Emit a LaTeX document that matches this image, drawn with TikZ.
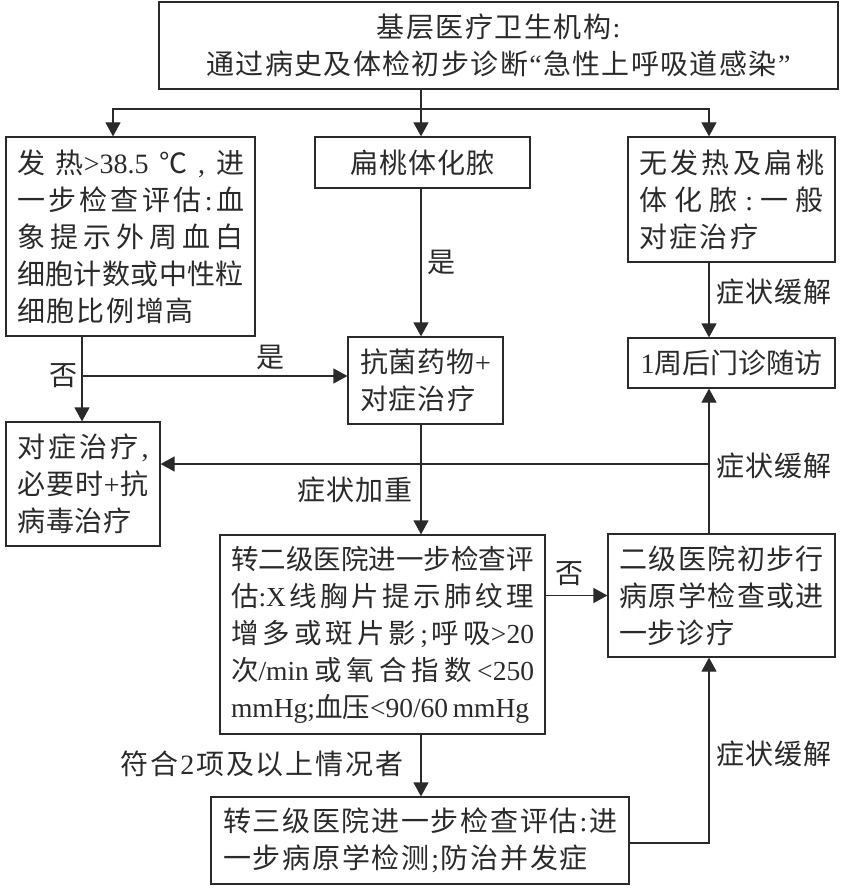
\documentclass[tikz,border=0pt]{standalone}
\usepackage{fontspec}
\setmainfont{Liberation Serif}
\newfontfamily\cjk{Noto Sans CJK SC}
\newcommand{\lat}{\rmfamily}
\usetikzlibrary{arrows.meta}
% one line of text spread out to a given width
\makeatletter
\newcommand{\fl}[2]{\makebox[#1pt][s]{\@tfor\@ch:=#2\do{\begingroup\@ch\endgroup\hfil}\unskip}}
\makeatother
\definecolor{inkgray}{HTML}{2A2A2A}
\tikzset{
  flowbox/.style={draw=inkgray, line width=1.2pt, rectangle, inner sep=0pt, align=left},
  flowline/.style={draw=inkgray, line width=1.2pt},
  flowarrow/.style={flowline, -{Triangle[length=14pt, width=15pt]}},
  flowlabel/.style={inner sep=0pt}
}
\begin{document}
\begin{tikzpicture}[x=1pt, y=1pt, every node/.style={text=inkgray, font=\cjk\fontsize{28}{37}\selectfont}]
  \useasboundingbox (0,0) rectangle (844,-893);
  % boxes
  \node[flowbox, align=center, minimum width=679, minimum height=87] (top) at (498.5,-45.5)
    {\fl{244}{基层医疗卫生机构{\lat :}}\\\fl{584}{通过病史及体检初步诊断{\lat “}急性上呼吸道感染{\lat ”}}};
  \node[flowbox, minimum width=249, minimum height=199, yshift=0] (fever) at (130.5,-236.5)
    {\fl{227}{发{热\lat >38.5}℃{\lat ,}进}\\\fl{227}{一步检查评估{\lat :}血}\\\fl{227}{象提示外周血白}\\\fl{227}{细胞计数或中性粒}\\\fl{177}{细胞比例增高}};
  \node[flowbox, minimum width=215, minimum height=51] (tonsil) at (422.5,-162.5)
    {\fl{145}{扁桃体化脓}};
  \node[flowbox, minimum width=207, minimum height=125] (nofever) at (731.5,-199.5)
    {\fl{185}{无发热及扁桃}\\\fl{185}{体化脓{\lat :}一般}\\\fl{119}{对症治疗}};
  \node[flowbox, minimum width=155, minimum height=87] (antibiotic) at (425.5,-380.5)
    {\fl{131}{抗菌药物{\lat +}}\\\fl{115}{对症治疗}};
  \node[flowbox, minimum width=207, minimum height=50] (followup) at (731.5,-363)
    {\fl{182}{{\lat 1}周后门诊随访}};
  \node[flowbox, minimum width=154, minimum height=124] (relief) at (83,-484)
    {\fl{131}{对症治疗{\lat ,}}\\\fl{131}{必要时{\lat +}抗}\\\fl{114}{病毒治疗}};
  \node[flowbox, minimum width=325, minimum height=199, font=\cjk\fontsize{27.5}{37}\selectfont] (secondary) at (382.5,-634.5)
    {\fl{303}{转二级医院进一步检查评}\\\fl{303}{{估\lat :X}线胸片提示肺纹理}\\\fl{303}{增多或斑片影{\lat ;}呼{吸\lat >20}}\\\fl{303}{{次\lat /min}或氧合指数{\lat <250}}\\\fl{291}{{\lat mmHg;}{血压\lat <90/60 mmHg}}};
  \node[flowbox, minimum width=227, minimum height=123] (secinit) at (721.5,-595.5)
    {\fl{205}{二级医院初步行}\\\fl{205}{病原学检查或进}\\\fl{115}{一步诊疗}};
  \node[flowbox, minimum width=418, minimum height=87] (tertiary) at (420,-840.5)
    {\fl{394}{转三级医院进一步检查评估{\lat :}进}\\\fl{365}{一步病原学检测{\lat ;}防治并发症}};
  % junctions on the connectors
  \coordinate (branch) at (421,-109);
  \coordinate (feverin) at (113,-109);
  \coordinate (nofeverin) at (709,-109);
  \coordinate (feverout) at (82,-376);
  \coordinate (backjoin) at (709,-464);
  \coordinate (tertout) at (709,-843);
  % connectors
  \draw[flowline] (top.south -| branch) -- (branch);
  \draw[flowarrow] (branch) -- (feverin) -- (fever.north -| feverin);
  \draw[flowarrow] (branch) -- (tonsil.north -| branch);
  \draw[flowarrow] (branch) -- (nofeverin) -- (nofever.north -| nofeverin);
  \draw[flowarrow] (tonsil.south -| branch) -- (antibiotic.north -| branch);
  \draw[flowarrow] (nofever.south -| nofeverin) -- (followup.north -| nofeverin);
  \draw[flowarrow] (fever.south -| feverout) -- (relief.north -| feverout);
  \draw[flowarrow] (feverout) -- (feverout -| antibiotic.west);
  \draw[flowarrow] (backjoin) -- (backjoin -| relief.east);
  \draw[flowarrow] (antibiotic.south -| branch) -- (secondary.north -| branch);
  \draw[flowarrow] (secondary.south -| branch) -- (tertiary.north -| branch);
  \draw[flowarrow] (secondary.east |- secinit.west) -- (secinit.west);
  \draw[flowarrow] (secinit.north -| nofeverin) -- (followup.south -| nofeverin);
  \draw[flowarrow] (tertout -| tertiary.east) -- (tertout) -- (secinit.south -| tertout);
  % labels
  \node[flowlabel] (yesa) at (441,-262) {是};
  \node[flowlabel] (yesb) at (270,-357) {是};
  \node[flowlabel] (noa) at (63,-376) {否};
  \node[flowlabel] (nob) at (569,-574) {否};
  \node[flowlabel] (easea) at (774,-292) {\fl{116}{症状缓解}};
  \node[flowlabel] (easeb) at (774,-466) {\fl{116}{症状缓解}};
  \node[flowlabel] (easec) at (774,-754) {\fl{116}{症状缓解}};
  \node[flowlabel] (worse) at (355,-490) {\fl{115}{症状加重}};
  \node[flowlabel] (twoplus) at (262,-764) {\fl{283}{符合{\lat 2}项及以上情况者}};
\end{tikzpicture}
\end{document}
